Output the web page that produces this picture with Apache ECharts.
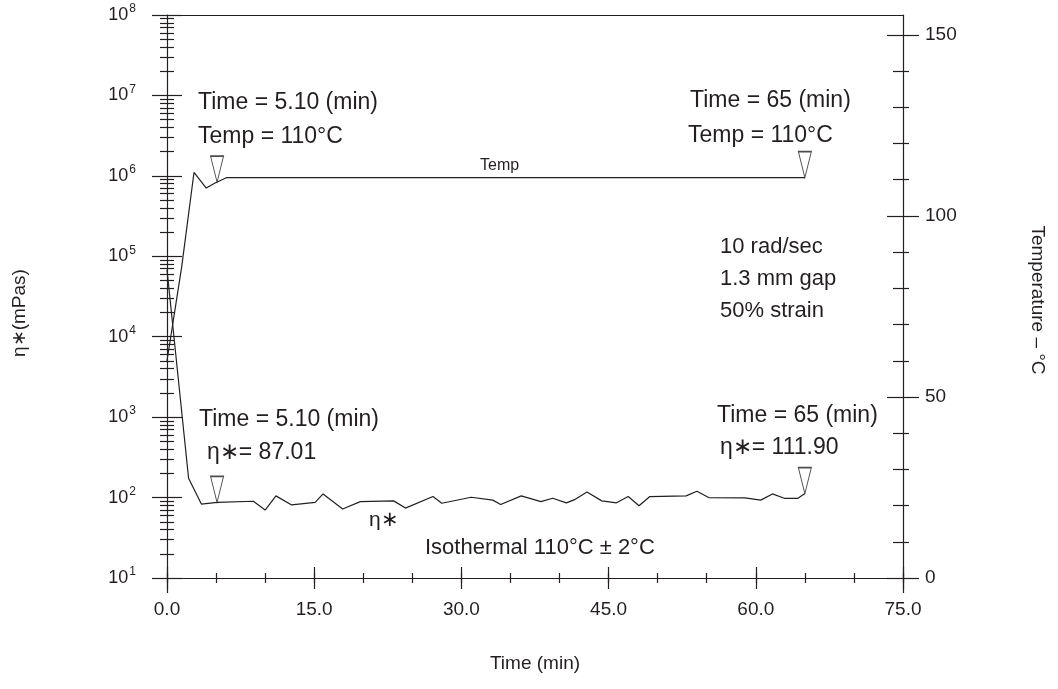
<!doctype html>
<html>
<head>
<meta charset="utf-8"/>
<title>Isothermal viscosity</title>
<script src="https://cdn.jsdelivr.net/npm/echarts@6/dist/echarts.min.js"></script>
<style>
  html, body { margin: 0; padding: 0; background: #fff; }
  #chart { width: 1058px; height: 689px; }
</style>
</head>
<body>
<div id="chart"></div>
<script>
    // temperature trace (right axis, deg C)
    const tempTime = [0, 1.5, 2.75, 4.0, 4.9, 6.1, 65];
    const tempVal = [60, 86, 112, 107.7, 109.1, 110.6, 110.6];

    // complex viscosity trace (left axis, mPas, log)
    const etaTime = [0, 2.2, 3.5, 5.1, 8.8, 10.0, 11.1, 12.7, 15.1, 15.9, 17.9, 19.7, 23.1, 24.3,
        27.1, 28.0, 31.0, 33.2, 34.0, 36.1, 38.1, 39.3, 40.7, 41.6, 42.8, 44.3, 45.8, 47.0,
        48.1, 49.2, 52.9, 54.0, 55.2, 58.9, 60.5, 61.7, 62.9, 64.3, 65.0];
    const etaVal = [68000, 174, 83, 87, 90, 70, 105, 81, 87, 111, 72, 89, 91, 74,
        103, 85, 101, 93, 82, 105, 89, 98, 86, 95, 117, 91, 86, 103,
        79, 103, 105, 120, 100, 99, 93, 111, 98, 98, 112];

    // the triangle markers
    const tempMarkTime = [5.1, 65];
    const tempMarkVal = [109.35, 110.6];
    const etaMarkTime = [5.1, 65];
    const etaMarkVal = [87.01, 111.90];

    // tick labels
    const xTicks = [0, 15, 30, 45, 60, 75];
    const xEnds = [0, 75];
    const tempTicks = [0, 50, 100, 150];
    const tempMinor = [10, 20, 30, 40, 60, 70, 80, 90, 110, 120, 130, 140];

    const ink = '#231f20';
    const fam = '"Liberation Sans", Arial, sans-serif';

    const zip = (a, b) => a.map((v, i) => [v, b[i]]);

    // minor log ticks 2..9 in every decade, in log10 space
    const logMinor = [];
    for (let n = 1; n < 8; n++) {
        for (let k = 2; k <= 9; k++) logMinor.push(n + Math.log10(k));
    }

    const hidden = {show: false};
    const line = {show: true, onZero: false, lineStyle: {color: ink, width: 1.2}};
    const noLine = {show: false, onZero: false};

    function tickAxis(base, len, extra) {
        return Object.assign({
            axisLine: noLine,
            axisLabel: hidden,
            splitLine: hidden,
            axisTick: Object.assign({show: true, length: len, lineStyle: {color: ink, width: 1.2}}, extra || {})
        }, base);
    }

    const triangle = 'path://M0,0L13,0L6.5,26Z';

    const texts = [
        ['Time = 5.10 (min)', 198, 103, 23],
        ['Temp = 110°C', 198, 137, 23],
        ['Time = 65 (min)', 690, 101, 23],
        ['Temp = 110°C', 688, 136, 23],
        ['Temp', 480, 166, 16],
        ['10 rad/sec', 720, 247, 22],
        ['1.3 mm gap', 720, 279, 22],
        ['50% strain', 720, 311, 22],
        ['Time = 5.10 (min)', 199, 420, 23],
        ['η∗= 87.01', 207, 453, 23],
        ['Time = 65 (min)', 717, 416, 23],
        ['η∗= 111.90', 720, 448, 23],
        ['η∗', 369, 520, 21],
        ['Isothermal 110°C ± 2°C', 425, 548, 22]
    ];

    const graphics = texts.map(t => ({
        type: 'text', x: t[1], y: t[2],
        style: {text: t[0], font: t[3] + 'px ' + fam, fill: ink, verticalAlign: 'middle'}
    }));
    graphics.push(
        {type: 'text', x: 535, y: 664, style: {text: 'Time (min)', font: '19px ' + fam, fill: ink, align: 'center', verticalAlign: 'middle'}},
        {type: 'text', x: 20, y: 313, rotation: Math.PI / 2, style: {text: 'η∗(mPas)', font: '19px ' + fam, fill: ink, align: 'center', verticalAlign: 'middle'}},
        {type: 'text', x: 1037, y: 300, rotation: -Math.PI / 2, style: {text: 'Temperature – °C', font: '19px ' + fam, fill: ink, align: 'center', verticalAlign: 'middle'}}
    );

    const chart = echarts.init(document.getElementById('chart'));
    const option = {
        animation: false,
        backgroundColor: '#fff',
        grid: {left: 167, right: 155, top: 15, bottom: 111},
        xAxis: [
            {
                type: 'value', position: 'bottom', min: 0, max: 75, interval: 15,
                axisLine: line, axisTick: hidden, splitLine: hidden,
                axisLabel: {
                    margin: 22, color: ink, fontSize: 19, fontFamily: 'Liberation Sans',
                    customValues: xTicks, formatter: v => v.toFixed(1)
                }
            },
            tickAxis({type: 'value', position: 'bottom', min: 0, max: 75, interval: 15, offset: -11}, 22),
            tickAxis({type: 'value', position: 'bottom', min: 0, max: 75, interval: 5, offset: -5}, 10),
            tickAxis({type: 'value', position: 'bottom', min: 0, max: 75}, 15, {customValues: xEnds}),
            {
                type: 'value', position: 'top', min: 0, max: 75,
                axisLine: line, axisTick: hidden, axisLabel: hidden, splitLine: hidden
            }
        ],
        yAxis: [
            {
                type: 'log', logBase: 10, position: 'left', min: 10, max: 1e8,
                axisLine: line, splitLine: hidden,
                axisTick: {show: true, length: 15, lineStyle: {color: ink, width: 1.2}},
                axisLabel: {
                    margin: 31, color: ink, fontSize: 18, fontFamily: 'Liberation Sans',
                    formatter: v => '10{s|' + Math.round(Math.log10(v)) + '}',
                    rich: {s: {fontSize: 12, fontFamily: 'Liberation Sans', color: ink, padding: [0, 0, 12, 1]}}
                }
            },
            tickAxis({type: 'value', position: 'left', min: 1, max: 8, interval: 1}, 15, {inside: true}),
            tickAxis({type: 'value', position: 'left', min: 1, max: 8, offset: -7}, 14, {customValues: logMinor}),
            {
                type: 'value', position: 'right', min: 0, max: 155.5,
                axisLine: line, axisTick: hidden, splitLine: hidden,
                axisLabel: {margin: 22, color: ink, fontSize: 19, fontFamily: 'Liberation Sans', customValues: tempTicks}
            },
            tickAxis({type: 'value', position: 'right', min: 0, max: 155.5, offset: -16}, 32, {customValues: tempTicks}),
            tickAxis({type: 'value', position: 'right', min: 0, max: 155.5, offset: -10}, 16, {customValues: tempMinor})
        ],
        series: [
            {
                name: 'Temp', type: 'line', xAxisIndex: 0, yAxisIndex: 3,
                data: zip(tempTime, tempVal), symbol: 'none',
                lineStyle: {color: ink, width: 1.2}
            },
            {
                name: 'eta', type: 'line', xAxisIndex: 0, yAxisIndex: 0,
                data: zip(etaTime, etaVal), symbol: 'none',
                lineStyle: {color: ink, width: 1.2}
            },
            {
                type: 'scatter', xAxisIndex: 0, yAxisIndex: 3,
                data: zip(tempMarkTime, tempMarkVal),
                symbol: triangle, symbolSize: [13, 26], symbolOffset: [0, -13],
                itemStyle: {color: '#fff', borderColor: ink, borderWidth: 1.2}
            },
            {
                type: 'scatter', xAxisIndex: 0, yAxisIndex: 0,
                data: zip(etaMarkTime, etaMarkVal),
                symbol: triangle, symbolSize: [13, 26], symbolOffset: [0, -13],
                itemStyle: {color: '#fff', borderColor: ink, borderWidth: 1.2}
            }
        ],
        graphic: graphics
    };
    chart.setOption(option);
</script>
</body>
</html>
